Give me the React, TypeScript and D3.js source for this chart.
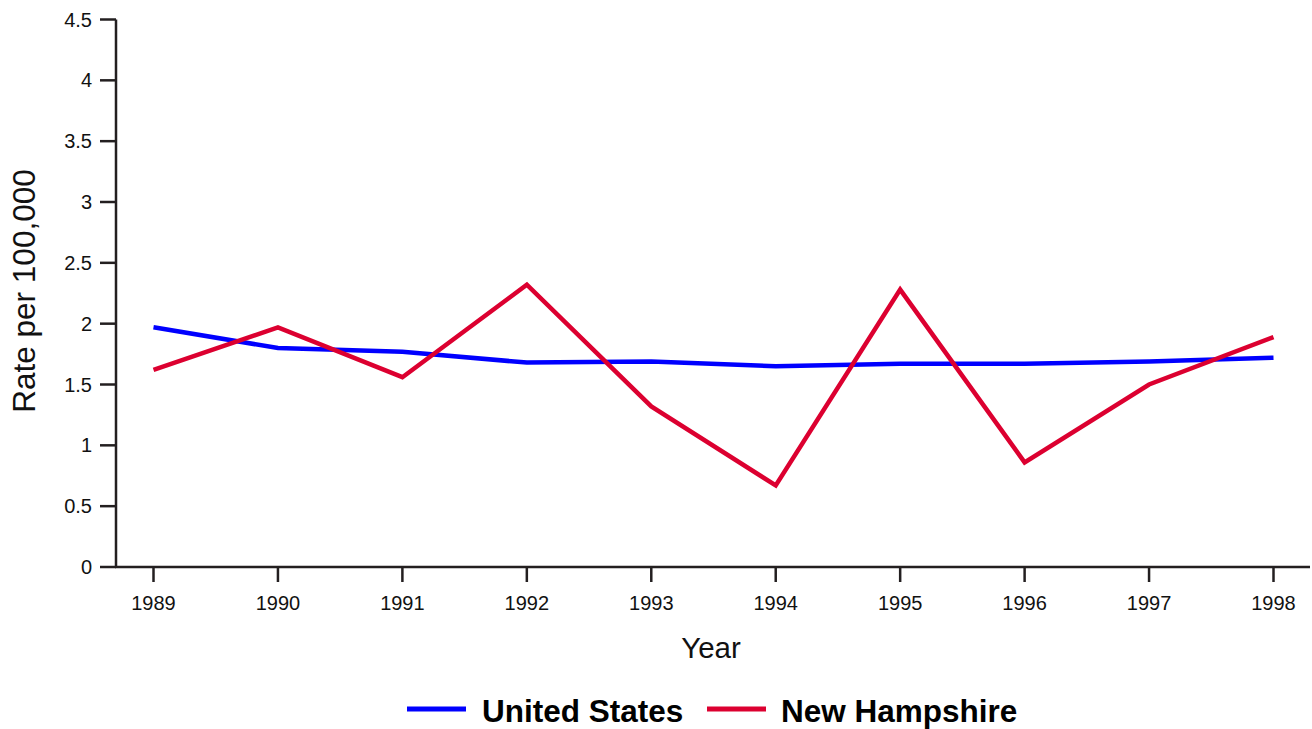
import { useRef, useEffect } from 'react';
import * as d3 from 'd3';

const YEARS = [1989, 1990, 1991, 1992, 1993, 1994, 1995, 1996, 1997, 1998];
const US_RATES = [1.97, 1.8, 1.77, 1.68, 1.69, 1.65, 1.67, 1.67, 1.69, 1.72];
const NH_RATES = [1.62, 1.97, 1.56, 2.32, 1.32, 0.67, 2.28, 0.86, 1.5, 1.89];
const Y_TICKS = [0, 0.5, 1, 1.5, 2, 2.5, 3, 3.5, 4, 4.5];

const SERIES = [
  { name: 'United States', values: US_RATES, color: '#0000ff' },
  { name: 'New Hampshire', values: NH_RATES, color: '#dc0030' },
];

const AXIS_COLOR = '#231f20';
const FONT = "'Liberation Sans', Arial, Helvetica, sans-serif";

export default function App() {
  const svgRef = useRef<SVGSVGElement>(null);

  useEffect(() => {
    if (!svgRef.current) return;
    const svg = d3.select(svgRef.current);
    svg.selectAll('*').remove();

    const width = 1312;
    const height = 729;
    const left = 116;
    const bottom = 567;

    const x = d3.scaleLinear().domain([1989, 1998]).range([153.5, 1273.5]);
    const y = d3.scaleLinear().domain([0, 4.5]).range([bottom, 19.5]);

    svg.attr('viewBox', `0 0 ${width} ${height}`);

    // axes
    svg.append('line')
      .attr('x1', left).attr('x2', left)
      .attr('y1', y(4.5)).attr('y2', bottom)
      .attr('stroke', AXIS_COLOR).attr('stroke-width', 2.5);
    svg.append('line')
      .attr('x1', left - 1).attr('x2', 1310)
      .attr('y1', bottom).attr('y2', bottom)
      .attr('stroke', AXIS_COLOR).attr('stroke-width', 2.5);

    for (const t of Y_TICKS) {
      svg.append('line')
        .attr('x1', 100).attr('x2', left)
        .attr('y1', y(t)).attr('y2', y(t))
        .attr('stroke', AXIS_COLOR).attr('stroke-width', 2.5);
      svg.append('text')
        .attr('x', 92).attr('y', y(t) + 7)
        .attr('text-anchor', 'end')
        .attr('font-family', FONT)
        .attr('font-size', 20)
        .attr('fill', '#111')
        .text(String(t));
    }

    for (const yr of YEARS) {
      svg.append('line')
        .attr('x1', x(yr)).attr('x2', x(yr))
        .attr('y1', bottom).attr('y2', bottom + 15)
        .attr('stroke', AXIS_COLOR).attr('stroke-width', 2.5);
      svg.append('text')
        .attr('x', x(yr)).attr('y', 610)
        .attr('text-anchor', 'middle')
        .attr('font-family', FONT)
        .attr('font-size', 20)
        .attr('fill', '#111')
        .text(String(yr));
    }

    svg.append('text')
      .attr('transform', `translate(35, 291) rotate(-90)`)
      .attr('text-anchor', 'middle')
      .attr('font-family', FONT)
      .attr('font-size', 31.5)
      .attr('fill', '#111')
      .text('Rate per 100,000');

    svg.append('text')
      .attr('x', 711).attr('y', 658)
      .attr('text-anchor', 'middle')
      .attr('font-family', FONT)
      .attr('font-size', 29.5)
      .attr('fill', '#111')
      .text('Year');

    const line = d3.line<number>()
      .x((_, i) => x(YEARS[i]))
      .y((d) => y(d));

    for (const s of SERIES) {
      svg.append('path')
        .attr('d', line(s.values))
        .attr('fill', 'none')
        .attr('stroke', s.color)
        .attr('stroke-width', 4.5);
    }

    // legend
    const legendItems = [
      { x: 407, tx: 482 },
      { x: 707, tx: 781 },
    ];
    SERIES.forEach((s, i) => {
      const li = legendItems[i];
      svg.append('line')
        .attr('x1', li.x).attr('x2', li.x + 59)
        .attr('y1', 709).attr('y2', 709)
        .attr('stroke', s.color).attr('stroke-width', 5);
      svg.append('text')
        .attr('x', li.tx).attr('y', 722)
        .attr('font-family', FONT)
        .attr('font-size', 31.5)
        .attr('font-weight', 'bold')
        .attr('fill', '#000')
        .text(s.name);
    });
  }, []);

  return (
    <svg
      ref={svgRef}
      width={1312}
      height={729}
      style={{ position: 'absolute', left: 0, top: 0, display: 'block', background: '#fff' }}
    />
  );
}
